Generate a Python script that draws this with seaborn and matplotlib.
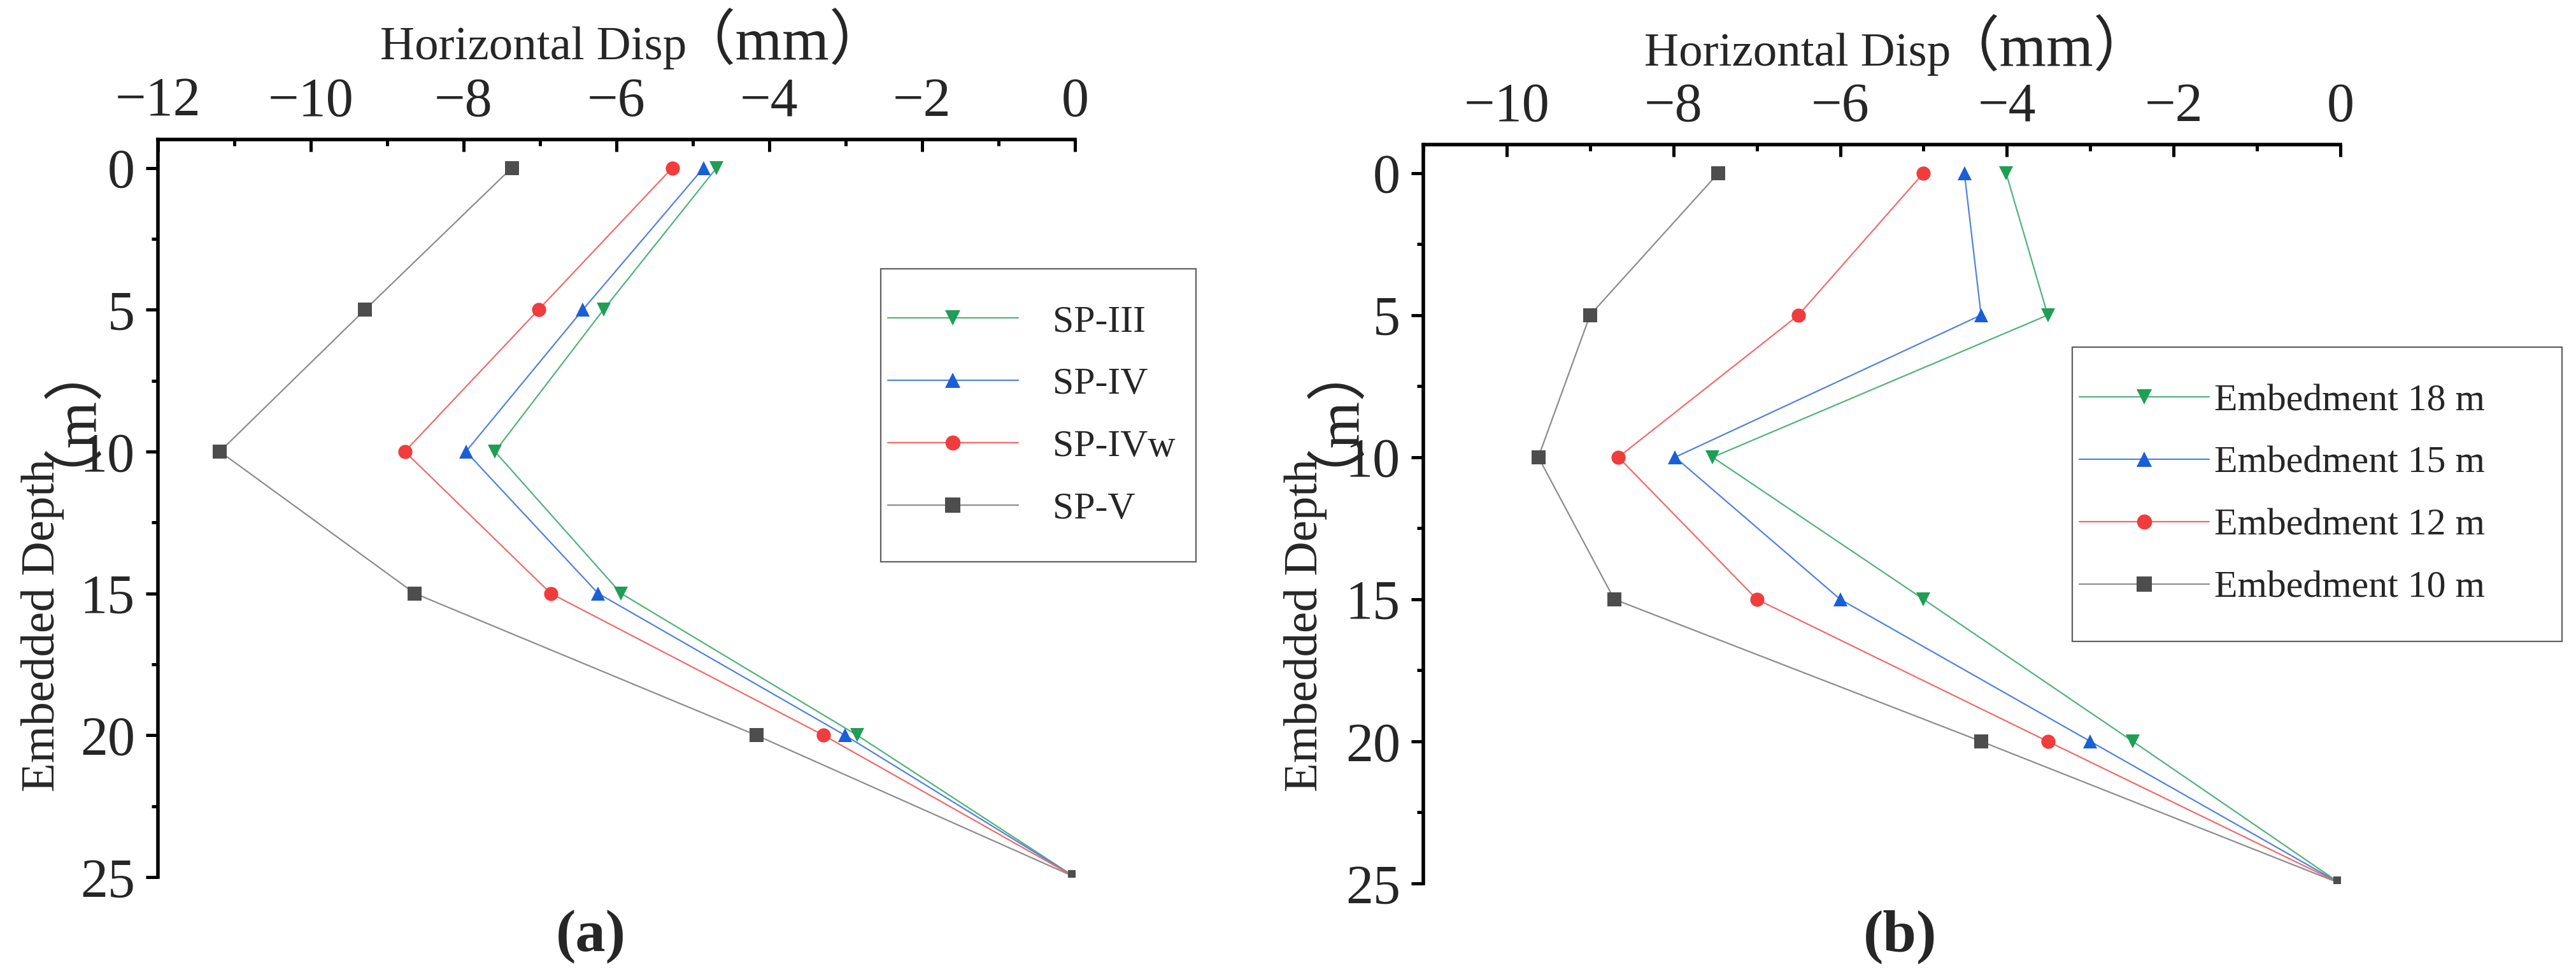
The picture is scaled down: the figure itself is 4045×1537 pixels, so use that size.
import matplotlib
matplotlib.use("Agg")
import matplotlib.pyplot as plt
from matplotlib.lines import Line2D
from matplotlib.patches import Rectangle
from matplotlib.ticker import MultipleLocator
import pandas as pd
import seaborn as sns

depth = [0, 5, 10, 15, 20, 25]

# (a) sheet pile sections
sp_iii = [-4.69, -6.17, -7.59, -5.94, -2.85, 0]
sp_iv = [-4.86, -6.44, -7.97, -6.24, -3.01, 0]
sp_ivw = [-5.27, -7.02, -8.77, -6.86, -3.29, 0]
sp_v = [-7.37, -9.29, -11.19, -8.64, -4.17, 0]
labels_a = ["SP-III", "SP-IV", "SP-IVw", "SP-V"]

# (b) embedment lengths
emb_18 = [-4.01, -3.51, -7.53, -5.00, -2.49, 0]
emb_15 = [-4.51, -4.31, -7.98, -6.00, -3.00, 0]
emb_12 = [-5.00, -6.50, -8.66, -7.00, -3.51, 0]
emb_10 = [-7.46, -9.00, -9.62, -8.71, -4.31, 0]
labels_b = ["Embedment 18 m", "Embedment 15 m", "Embedment 12 m", "Embedment 10 m"]

marker_colors = ["#1f9e55", "#1a5fd8", "#f03c3c", "#4d4d4d"]
line_colors = ["#52b27c", "#4f82e2", "#f26a6a", "#8c8c8c"]
markers = ["v", "^", "o", "s"]

sns.set_style("white")
plt.rcParams["font.family"] = ["Liberation Serif", "Noto Sans CJK SC"]


def long_df(labels, series):
    rows = []
    for lab, vals in zip(labels, series):
        for d, v in zip(depth, vals):
            rows.append({"series": lab, "depth": d, "disp": v})
    return pd.DataFrame(rows)


df_a = long_df(labels_a, [sp_iii, sp_iv, sp_ivw, sp_v])
df_b = long_df(labels_b, [emb_18, emb_15, emb_12, emb_10])

fig = plt.figure(figsize=(40.45, 15.37), dpi=100)
ax_a = fig.add_axes([0.06131, 0.10410, 0.35600, 0.75341])
ax_b = fig.add_axes([0.55253, 0.09759, 0.35600, 0.75472])


def draw(ax, df, labels, xlim, opt):
    sns.lineplot(data=df, x="disp", y="depth", hue="series", style="series",
                 hue_order=labels, style_order=labels,
                 palette=dict(zip(labels, marker_colors)),
                 markers=dict(zip(labels, markers)), dashes=False,
                 sort=False, estimator=None, orient="y",
                 markersize=16, markeredgewidth=0, linewidth=1.6,
                 legend=False, ax=ax)
    for ln, lc in zip(ax.lines, line_colors):
        mc = ln.get_color()
        ln.set_markerfacecolor(mc)
        ln.set_markeredgecolor(mc)
        ln.set_color(lc)

    ax.set_xlim(*xlim)
    ax.set_ylim(25, -1)
    ax.xaxis.set_major_locator(MultipleLocator(2))
    ax.xaxis.set_minor_locator(MultipleLocator(1))
    ax.yaxis.set_major_locator(MultipleLocator(5))
    ax.yaxis.set_minor_locator(MultipleLocator(2.5))
    ax.xaxis.tick_top()
    for s in ["bottom", "right"]:
        ax.spines[s].set_visible(False)
    for s in ["top", "left"]:
        ax.spines[s].set_linewidth(4)
        ax.spines[s].set_color("black")
    ax.tick_params(axis="x", which="both", direction="in", top=True, bottom=False,
                   labelsize=62, pad=13, width=3.6, color="black")
    ax.tick_params(axis="y", which="both", direction="out", left=True,
                   labelsize=62, pad=12, width=3.6, color="black")
    ax.tick_params(which="major", length=14)
    ax.tick_params(which="minor", length=7)
    ax.set_xlabel("")
    ax.set_ylabel("")

    # axis titles: the unit part is set larger, as in the source figure
    xj, yb = opt["xlab"]
    ax.text(xj, yb, "Horizontal Disp", transform=ax.transAxes,
            ha="right", va="baseline", fontsize=54)
    ax.text(xj - 0.012, yb, "（mm）", transform=ax.transAxes,
            ha="left", va="baseline", fontsize=68)
    xb, yj = opt["ylab"]
    ax.text(xb, yj, "Embedded Depth", transform=ax.transAxes, rotation=90,
            rotation_mode="anchor", ha="right", va="baseline", fontsize=54)
    ax.text(xb, yj - 0.01, "（m）", transform=ax.transAxes, rotation=90,
            rotation_mode="anchor", ha="left", va="baseline", fontsize=68)

    handles = [Line2D([], [], color=lc, lw=1.6, marker=m, markersize=17,
                      markerfacecolor=mc, markeredgewidth=0)
               for lc, mc, m in zip(line_colors, marker_colors, markers)]
    ax.legend(handles, labels, loc="center left", bbox_to_anchor=opt["anchor"],
              frameon=False, fontsize=43, borderpad=0, borderaxespad=0,
              handlelength=3.42, handletextpad=opt["textpad"],
              labelspacing=0.72, handleheight=0.7)
    x0, y0, x1, y1 = opt["frame"]
    ax.add_patch(Rectangle((x0, y0), x1 - x0, y1 - y0, transform=ax.transAxes,
                           fill=False, ec="#606060", lw=1.6, clip_on=False))


draw(ax_a, df_a, labels_a, (-12, 0),
     {"anchor": (0.796, 0.6257), "textpad": 0.92,
      "frame": (0.7882, 0.4275, 1.1319, 0.8247),
      "xlab": (0.5764, 1.1088), "ylab": (-0.1132, 0.567)})
draw(ax_b, df_b, labels_b, (-11, 0),
     {"anchor": (0.7153, 0.5263), "textpad": 0.13,
      "frame": (0.7076, 0.3276, 1.2417, 0.7259),
      "xlab": (0.575, 1.107), "ylab": (-0.116, 0.575)})

fig.text(0.2294, 0.0429, "(a)", ha="center", va="center", fontsize=68, fontweight="bold")
fig.text(0.7377, 0.0429, "(b)", ha="center", va="center", fontsize=68, fontweight="bold")

fig.savefig("out.png", dpi=100, facecolor="white")
